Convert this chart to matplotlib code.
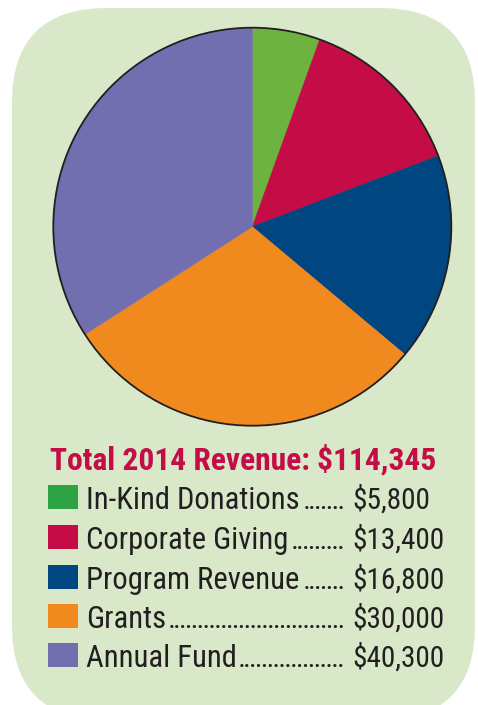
import matplotlib
matplotlib.use("Agg")
import matplotlib.pyplot as plt
from matplotlib import font_manager
from matplotlib.patches import FancyBboxPatch, Circle, Rectangle

# Data, as printed in the key
categories = ["In-Kind Donations", "Corporate Giving", "Program Revenue",
              "Grants", "Annual Fund"]
amounts = [5800, 13400, 16800, 30000, 40300]
total = 114345
# share of the pie as it is drawn in the original
slice_pct = [5.5, 13.7, 16.9, 29.8, 34.1]

pie_colors = ["#6cb33f", "#c40c46", "#004680", "#f08a1e", "#716fb0"]
key_colors = ["#2ea343", "#c40c46", "#004680", "#f08a1e", "#716fb0"]
crimson = "#c40c46"
ink = "#231f20"
panel = "#d8e8c9"

# pick a narrow face if there is one
names = {f.name for f in font_manager.fontManager.ttflist}
narrow = next((n for n in ["Liberation Sans Narrow", "Roboto Condensed",
                           "Liberation Sans"] if n in names), "DejaVu Sans")

W, H = 478, 705
fig = plt.figure(figsize=(W / 100, H / 100), dpi=100)
fig.patch.set_facecolor("white")

# background axes in pixel units, y down
bg = fig.add_axes([0, 0, 1, 1])
bg.set_xlim(0, W)
bg.set_ylim(H, 0)
bg.axis("off")
bg.add_patch(FancyBboxPatch((12, 8), 463, 712,
                            boxstyle="round,pad=0,rounding_size=95",
                            fc=panel, ec="none"))

# the pie
cx, cy, r = 252.3, 226.7, 199
pax = fig.add_axes([(cx - r) / W, (H - cy - r) / H, 2 * r / W, 2 * r / H])
wedges, _ = pax.pie(slice_pct, colors=pie_colors, startangle=90,
                    counterclock=False, radius=1)
for w, c in zip(wedges, pie_colors):
    w.set_edgecolor(c)
    w.set_linewidth(0.4)
pax.add_patch(Circle((0, 0), 1, fill=False, ec=ink, lw=1.3, clip_on=False))
pax.set_xlim(-1, 1)
pax.set_ylim(-1, 1)
pax.set_aspect("auto")
pax.axis("off")

# title + key
title = bg.text(50, 470, f"Total 2014 Revenue: ${total:,}", fontfamily=narrow,
                fontweight="bold", fontsize=18, color=crimson,
                va="baseline", ha="left")

row_top = [485, 525, 565, 604, 643]
name_x, dots_end, value_x = 86, 345, 352
labels, values = [], []
for i, cat in enumerate(categories):
    bg.add_patch(Rectangle((48.5, row_top[i]), 30, 24, fc=key_colors[i],
                           ec="none"))
    labels.append(bg.text(name_x, row_top[i] + 24, cat, fontfamily=narrow,
                          fontsize=19.5, color=ink, va="baseline"))
    values.append(bg.text(value_x, row_top[i] + 24, f"${amounts[i]:,}",
                          fontfamily=narrow, fontsize=19.5, color=ink,
                          va="baseline"))

# scale the type so the widths match the original layout
fig.canvas.draw()
rend = fig.canvas.get_renderer()
tw = title.get_window_extent(rend).width
title.set_fontsize(18 * 387 / tw)
size = 19.5 * 214 / labels[0].get_window_extent(rend).width
vsize = (size + 19.5 * 88 / values[3].get_window_extent(rend).width) / 2
for t in labels:
    t.set_fontsize(size)
for t in values:
    t.set_fontsize(vsize)

# dotted leaders up to the amounts, dots about 5.9 px apart
fig.canvas.draw()
probe = bg.text(0, 0, "." * 10, fontfamily=narrow, fontweight="bold",
                fontsize=size)
dot_size = size * 59 / probe.get_window_extent(rend).width
probe.remove()
dot_w = 5.9
for i, t in enumerate(labels):
    x_end = name_x + t.get_window_extent(rend).width
    n = int((dots_end - x_end + 1) / dot_w)
    bg.text(dots_end, row_top[i] + 24, "." * max(n, 0), fontfamily=narrow,
            fontweight="bold", fontsize=dot_size, color=ink, va="baseline",
            ha="right")

fig.savefig("out.png", dpi=100, facecolor="white")
